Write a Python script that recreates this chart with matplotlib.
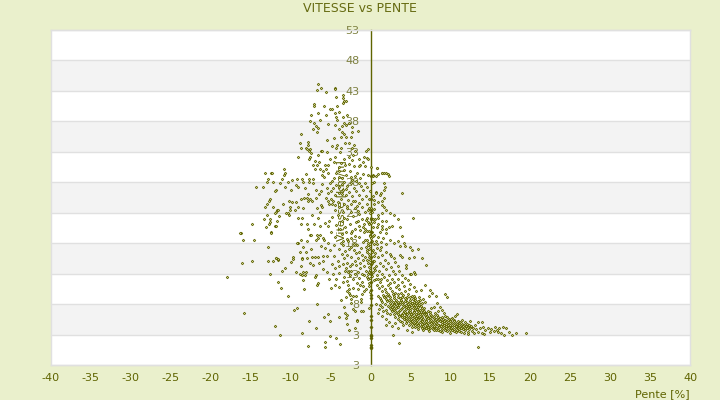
import numpy as np
import matplotlib
matplotlib.use("Agg")
import matplotlib.pyplot as plt

# (pente %, vitesse km/h)
high_points = [(-6.6,44.1),(-6.2,43.4),(-6.7,43.1),(-5.6,42.9),(-4.5,43.4),(-4.5,43.3),(-4.3,42.0),(-3.5,42.3),(-3.5,41.8),(-3.3,41.4),
 (-3.1,41.4),(-3.5,41.0),(-7.1,40.8),(-7.1,40.5),(-5.8,40.5),(-4.2,40.6),(-5.1,40.1),(-4.8,40.0),(-6.6,39.3),(-7.5,39.0),
 (-5.6,39.0),(-4.5,39.3),(-4.0,39.5),(-4.3,38.7),(-4.2,38.3),(-3.5,38.7),(-3.0,39.0),(-6.3,38.3),(-7.6,38.0),(-7.1,37.7),
 (-5.3,37.5),(-4.5,37.4),(-6.8,37.2),(-7.2,36.7),(-6.6,36.9),(-6.7,36.2),(-8.7,36.0),(-4.0,36.7),(-3.3,37.7),(-3.6,37.2),
 (-3.1,37.4),(-2.7,37.7),(-2.3,37.0),(-1.6,36.5),(-2.3,36.2),(-3.6,36.2),(-3.3,35.9),(-3.1,35.4),(-3.7,35.4),(-2.5,35.5),
 (-4.6,35.2),(-5.5,35.0),(-8.8,34.4),(-7.8,34.6),(-7.8,34.1),(-8.1,33.7),(-8.0,33.4),(-8.7,33.6),(-7.6,33.4),(-7.7,33.1),
 (-7.5,32.8),(-6.2,33.1),(-5.5,32.9),(-4.8,33.9),(-4.3,33.6),(-4.2,34.2),(-3.7,33.7),(-3.2,34.4),(-2.7,34.4),(-3.8,32.9),
 (-2.1,34.2),(-2.3,33.6),(-2.0,33.1),(-0.3,33.4),(-0.6,33.1),(-9.1,32.1),(-7.7,31.8),(-7.6,32.1),(-6.6,32.4),(-6.1,33.1)]

upper_cloud = [(-7.0,31.5),(-6.5,31.4),(-6.7,30.8),(-7.2,30.9),(-6.9,30.1),(-6.3,30.1),(-5.7,30.9),(-5.3,30.8),(-5.6,30.1),(-6.0,29.9),
 (-5.3,29.5),(-6.1,29.2),(-5.8,28.9),(-5.1,31.8),(-4.5,32.2),(-4.6,31.4),(-3.7,31.2),(-3.3,31.8),(-2.7,32.2),(-2.2,32.5),
 (-2.3,31.6),(-1.5,31.8),(-0.8,32.2),(-0.5,32.0),(-0.3,31.8),(-1.3,30.8),(-0.9,31.3),(-2.7,31.0),(-3.2,30.8),(-3.9,30.5),
 (-4.0,29.9),(-4.3,29.6),(-3.3,30.0),(-2.6,29.9),(-2.1,30.6),(-1.5,30.7),(-0.7,30.6),(0.0,30.5),(0.8,30.4),(-1.7,29.5),
 (-1.0,29.3),(-0.3,29.2),(-4.0,28.9),(-3.6,28.7),(-2.5,28.8),(-3.1,29.2),(-2.0,29.1),(-4.6,28.7),(-1.3,28.7),(0.3,29.2),
 (1.4,29.5),(1.7,29.6),(2.0,29.6),(2.2,29.3),(2.3,29.0),(0.9,29.3),(0.7,29.0),(0.3,29.1),(0.5,28.1),(1.7,27.8),
 (1.8,27.3),(0.2,27.8),(-0.7,27.8),(-1.8,28.2),(-2.5,27.9),(-3.3,28.1),(-4.3,27.6),(-3.9,27.2),(-2.9,27.4),(-2.1,27.1),
 (-1.2,27.4),(-0.4,27.3),(-3.4,26.7),(-2.7,26.4),(-1.8,26.6),(-0.9,26.7),(-0.1,26.5),(0.7,26.4),(-4.0,26.2),(-3.1,25.9),
 (-2.3,25.7),(-1.5,25.9),(-0.6,25.7),(0.3,25.8),(-3.7,25.3),(-2.8,25.1),(-1.9,25.0),(-1.1,25.3),(-0.2,25.2),(0.5,25.1),
 (-4.1,24.7),(-3.3,24.5),(-2.4,24.4),(-1.4,24.6),(-0.5,24.4),(-3.9,23.9),(-3.0,23.8),(-2.0,23.7),(-1.1,23.9),(-0.2,23.7),
 (-4.4,23.5),(-3.5,23.2),(-2.5,23.1),(-1.6,23.3),(-0.7,23.2),(-4.8,28.2),(-5.1,27.8),(-4.7,27.1),(-5.0,26.5),(-4.5,25.9),
 (-4.7,25.0),(-4.4,24.2),(-3.6,27.7),(-3.1,26.9),(-2.3,28.3),(-1.5,27.9),(-3.6,26.1),(-2.2,25.0),(-2.9,24.1),(-1.7,24.1)]

left_points = [(-13.2,29.5),(-12.5,29.5),(-12.3,29.6),(-10.8,30.1),(-10.7,29.5),(-10.8,29.2),(-12.8,28.5),(-13,28),(-12.2,28),(-11.1,28.5),
 (-11.3,27.8),(-10.3,28.1),(-9.8,28.3),(-9.2,28.5),(-8.6,28.5),(-8.5,28),(-9.3,27.5),(-9.1,27.3),(-10.7,27.3),(-14.3,27.2),
 (-13.5,27.2),(-11.8,26.8),(-12,26.5),(-10,26.7),(-8.1,29.3),(-7.7,28.5),(-7.7,28),(-7.2,28.5),(-7.2,27.8),(-8.2,27),
 (-7.8,26),(-8.3,25.5),(-8.7,25.2),(-8,25.4),(-7.8,24.9),(-7.6,25.2),(-7.3,24.9),(-6.8,26.7),(-6.2,26.5),(-6.5,26),
 (-6.8,25.5),(-6.1,27.7),(-5.5,27),(-5.3,26.2),(-5.6,25.4),(-5.3,24.9),(-5,25.2),(-5.2,24.5),(-4.8,24.4),(-6.2,24.2),
 (-6.7,23.7),(-6.1,23.9),(-6.3,23.2),(-12.6,25.2),(-12.7,24.9),(-13,24.5),(-13.2,24),(-11,24.5),(-10.2,24.9),(-9.8,24.7),
 (-9.3,24.7),(-10.1,24),(-9.1,24),(-10.1,23.5),(-9.5,23.5),(-8.5,23.7),(-9.1,22.2),(-8.6,22.2),(-12.2,23.9),(-11.7,23.5),
 (-11.6,23.5),(-11.8,23.2),(-12,22.9),(-10.6,22.9),(-10.3,22.9),(-10.2,22.6),(-13,22.7),(-11.5,22.4),(-13.3,21.9),(-12.6,21.9),
 (-12.6,21.4),(-12.7,21.1),(-11.7,21.6),(-12,20.9),(-11.8,20.9),(-14.8,21.1),(-13.1,20.6),(-16.2,19.6),(-16.3,19.6),(-12.5,19.8),
 (-12.5,19.7),(-16,18.5),(-14.6,18.5),(-12.8,17.3),(-9.1,18),(-8.7,18.6),(-9.2,18),(-7.8,20.3),(-7.6,19.4),(-8,18.3),
 (-7.5,19.3),(-8.7,21.1),(-8,21.1),(-7.1,21.1),(-6.6,22.1),(-7.3,22.6),(-6.3,20.9),(-5.7,21.3),(-5.3,20.9),(-5.2,21.6),
 (-4.8,22.3),(-6.8,18.6),(-6.6,18.9),(-6.7,19.3),(-6.3,19.3),(-5.9,18.8),(-5.8,18.5),(-8.5,17.3),(-8.8,16.6),(-8.1,16.5),
 (-7.5,17),(-7.3,15.7),(-11.8,15.5),(-11.6,15.3),(-9.7,15.7),(-8.6,15.5),(-6.6,15.7),(-5.9,15.9),(-6.0,15.1),(-5.5,15.9)]

lower_left = [(-18,12.4),(-16.1,14.7),(-14.8,15),(-12.8,15),(-12.2,15),(-11.8,15.5),(-11.6,15.4),(-12.6,13),(-11.1,13.4),(-10.7,13.9),
 (-9.9,14.9),(-9.7,15.4),(-8.7,14.2),(-8.6,15.4),(-7.9,15.6),(-7,15.8),(-7.6,14.7),(-7.2,14.5),(-9.3,13.2),(-8.5,13.2),
 (-8.1,13.2),(-8.6,12.7),(-8.2,12.7),(-8.8,12.9),(-8.5,11.9),(-7,12.4),(-6.8,12.7),(-11.6,11.6),(-11.2,10.7),(-10.3,9.4),
 (-8.3,10.4),(-6.6,11.4),(-6.7,11.1),(-5,10.7),(-4.5,11.2),(-6.7,8),(-9.2,7.3),(-9.6,7.1),(-15.8,6.6),(-7.7,5.2),
 (-5.8,5.8),(-5.3,6.3),(-5.1,5.2),(-4,5.8),(-3.2,6.5),(-3,6.2),(-3.1,5.7),(-3,4.7),(-2.7,3.7),(-11.9,4.4),
 (-11.3,3),(-8.6,3.2),(-6.8,4),(-2,4),(-5.1,2.7),(-4.3,2.5),(-5.7,1.7),(-3.8,1.4),(-5.7,0.9),(-7.8,1.1),
 (-3.7,8.6),(-3.3,7.6),(-2.7,9.8),(-2.4,8.8),(-2.2,9.4),(-3.1,9.1),(-2.6,9.5),(-1.8,9.3),(-1.2,8.8),(-1.2,8.3),
 (-1.1,9.6),(-0.8,10.2),(-0.9,6.9),(-1.2,6.8),(-0.2,7.3),(-1.7,5.4),(-1.7,5.2),(-1.9,6.8),(-2.4,8.1),(-2.2,7.2)]

center_cloud = [(-4.1,22.6),(-3.3,22.1),(-2.2,22.5),(-1.4,22.8),(-0.5,22.2),(-3.6,21.7),(-2.9,21.9),(-1.8,21.4),(-1.1,22.0),(-0.3,21.5),
 (-4.3,21.0),(-3.2,20.7),(-2.6,21.2),(-1.4,20.8),(-0.8,21.1),(0.1,21.3),(-3.8,20.4),(-3.1,19.9),(-2.0,20.3),(-1.3,20.2),
 (-0.2,20.0),(-3.6,19.5),(-2.5,19.7),(-1.9,19.2),(-0.8,19.8),(-0.1,19.3),(-4.4,19.0),(-3.0,18.7),(-2.4,18.9),(-1.5,19.0),
 (-0.7,18.6),(0.1,18.9),(-3.7,18.1),(-2.8,18.4),(-2.1,17.9),(-1.0,18.2),(-0.3,18.0),(-3.5,17.7),(-2.4,17.3),(-1.7,17.7),
 (-0.6,17.4),(-0.1,17.6),(-4.0,17.0),(-3.2,16.7),(-2.1,16.9),(-1.4,16.6),(-0.5,16.9),(-3.6,16.3),(-2.9,16.0),(-1.8,16.4),
 (-1.1,16.1),(-0.2,16.3),(-4.6,15.9),(-3.3,15.5),(-2.5,15.8),(-1.6,15.5),(-0.7,15.7),(-4.1,15.0),(-2.9,14.8),(-2.0,15.1),
 (-1.3,14.8),(-0.4,15.2),(-3.5,14.6),(-2.6,14.2),(-1.8,14.5),(-0.8,14.2),(0.0,14.6),(-4.4,13.9),(-3.1,14.0),(-2.4,13.5),
 (-1.3,13.9),(-0.6,13.5),(-3.9,13.1),(-2.8,13.3),(-2.0,12.9),(-1.1,13.0),(-0.2,13.3),(-3.3,12.4),(-2.6,12.7),(-1.5,12.3),
 (-0.8,12.7),(-4.3,12.1),(-2.9,11.8),(-2.2,12.1),(-1.1,11.6),(-0.3,12.1),(-2.8,11.1),(-1.7,11.4),(-1.0,10.9),(-0.2,11.0),
 (-0.6,10.5),(-1.6,10.4),(-2.2,10.7),(-0.1,10.0),(-3.5,11.6),(-3.9,10.8),(-0.3,23.4),(-0.1,22.9),(0.1,22.2),(-0.6,21.8),
 (-0.2,21.1),(0.3,20.7),(-0.7,20.4),(-0.4,20.0),(0.2,19.8),(-0.1,19.1),(0.3,19.2),(-0.5,18.5),(0.2,18.3),(-0.3,17.7),
 (0.4,17.8),(-0.2,17.1),(0.3,16.9),(-0.4,16.5),(0.2,16.6),(-0.2,15.8),(0.4,15.9),(-0.1,15.3),(0.3,15.1),(-0.3,14.7),
 (0.2,14.8),(-0.2,14.1),(0.4,13.9),(-0.1,13.6),(0.3,13.3),(-0.3,12.9),(0.2,12.6),(-0.1,12.3),(0.4,12.0),(-0.2,11.5),
 (0.1,23.8),(0.2,23.1),(0.4,21.4),(-0.9,20.6),(-1.6,21.7),(-2.3,20.0),(-3.4,18.3),(-2.7,17.0),(-1.2,17.2),(-0.9,15.3),
 (-2.3,14.6),(-3.2,13.4),(-1.6,13.2),(-0.5,12.4),(-2.7,10.4),(-1.3,11.2),(-3.0,10.2),(-4.0,14.3),(-4.6,17.7),(-5.0,19.8),
 (-5.3,18.1),(-5.1,16.9),(-4.8,14.6),(-5.4,13.3),(-5.2,12.1),(-4.7,12.9),(-5.7,17.2),(-6.2,17.6),(-6.4,14.8),(-5.9,13.7)]

right_points = [(0.8,30.4),(1.4,29.5),(3.9,26.3),(0.7,26.3),(1.7,26.7),(1.3,26.2),(1.2,25.9),(1.7,25.5),(1.5,24.9),(1.4,24.2),
 (0.5,24.5),(1.0,24.7),(1.7,23.9),(1.9,23.5),(2.4,23.0),(2.9,22.7),(5.3,22.2),(3.4,21.9),(1.9,21.7),(1.4,21.7),
 (0.9,22.7),(1.5,22.9),(0.9,22.2),(3.7,20.6),(2.7,20.9),(2.3,20.6),(2.0,20.3),(1.4,20.4),(1.4,20.9),(2.0,19.6),
 (2.9,18.1),(2.4,18.5),(3.9,19.1),(3.4,18.3),(3.7,17.6),(4.2,18.1),(4.3,17.5),(4.9,17.3),(5.2,16.8),(6.0,17.1),
 (6.4,15.5),(5.5,15.8),(4.8,15.6),(3.7,16.0),(3.9,15.7),(2.9,15.5),(2.0,16.6),(2.4,16.2),(1.3,17.3),(0.8,17.2),
 (0.4,23.6),(0.6,22.0),(1.0,21.2),(0.3,21.9),(0.8,20.7),(1.2,19.8),(0.5,19.4),(1.0,19.0),(1.6,18.8),(0.7,18.4),
 (1.3,18.2),(0.8,17.8),(1.9,17.9),(1.2,16.8),(0.6,16.4),(1.5,16.0),(2.6,15.9),(0.9,15.7),(1.8,15.3),(0.5,15.0),
 (1.2,14.8),(2.2,14.7),(3.1,14.9),(0.7,14.3),(1.6,14.2),(2.6,14.1),(3.5,14.3),(4.4,14.5),(6.9,14.4),(5.4,13.2),
 (4.5,14.0),(4.9,13.0),(5.1,12.9),(5.6,12.9),(6.8,11.1),(7.4,10.3),(7.7,9.9),(8.2,9.4),(9.3,9.6),(9.6,9.1),
 (7.3,9.3),(8.3,8.1),(8.7,7.5),(8.9,7.1),(9.2,6.6),(10.8,6.3),(13.5,0.9),(3.6,1.6),(2.8,3.0),(2.0,4.5),
 (0.6,13.6),(1.1,13.4),(1.9,13.7),(2.8,13.5),(3.6,13.4),(0.8,12.8),(1.5,13.0),(2.3,12.7),(3.1,12.9),(4.0,12.8),
 (0.7,12.2),(1.7,12.4),(2.7,12.2),(3.5,12.1),(4.3,12.3),(1.3,12.1),(2.1,11.9),(3.0,11.7),(3.9,11.6),(4.7,11.9),
 (2.4,11.4),(3.4,11.2),(4.2,11.0),(5.0,11.3),(5.4,10.8),(4.8,10.4),(5.7,10.1),(6.3,10.3)]

band_points = [(0.9,12.1),(1.2,11.6),(0.8,11.2),(1.5,11.0),(1.1,10.6),(1.8,10.5),(2.2,11.2),(2.5,10.6),(1.4,10.1),(2.0,10.0),
 (2.7,10.1),(3.2,10.8),(3.6,10.4),(3.1,9.9),(3.8,9.8),(4.3,10.2),(1.6,9.5),(2.3,9.4),(2.9,9.3),(3.5,9.2),
 (4.1,9.5),(4.7,9.6),(5.2,9.4),(5.6,9.0),(6.1,9.2),(6.6,8.8),(6.8,8.3),(6.4,8.1),(2.0,8.9),(2.6,8.7),
 (3.2,8.6),(3.8,8.7),(4.4,8.8),(5.0,8.7),(5.4,8.4),(5.9,8.5),(2.4,8.2),(2.9,8.0),(3.5,8.1),(4.1,8.1),
 (4.7,8.0),(5.3,7.9),(5.8,7.8),(6.3,7.7),(2.7,7.6),(3.3,7.5),(3.9,7.4),(4.5,7.5),(5.0,7.4),(5.6,7.3),
 (3.0,7.1),(3.6,6.9),(4.2,6.9),(4.8,6.9),(5.4,6.8),(5.9,6.9),(6.4,7.0),(3.3,6.5),(3.9,6.4),(4.5,6.3),
 (5.1,6.3),(5.7,6.3),(6.2,6.4),(6.8,6.6),(7.2,6.9),(7.6,7.3),(7.9,7.6),(3.6,6.0),(4.2,5.9),(4.8,5.8),
 (5.4,5.8),(6.0,5.7),(6.5,5.9),(7.1,6.1),(7.6,6.2),(8.1,6.5),(8.4,6.9),(4.5,5.4),(5.1,5.3),(5.7,5.2),
 (6.3,5.3),(6.9,5.4),(7.4,5.6),(7.9,5.7),(8.4,5.8),(8.9,5.9),(9.3,6.0),(5.4,4.9),(6.0,4.8),(6.6,4.8),
 (7.2,4.9),(7.8,5.0),(8.3,5.2),(8.8,5.3),(9.3,5.4),(9.8,5.6),(10.2,5.7),(6.3,4.4),(6.9,4.3),(7.5,4.4),
 (8.1,4.5),(8.6,4.6),(9.1,4.8),(9.6,4.9),(10.1,5.0),(10.6,5.1),(11.0,5.3),(7.2,3.9),(7.8,3.9),(8.4,4.0),
 (9.0,4.2),(9.5,4.3),(10.0,4.4),(10.5,4.5),(11.0,4.7),(11.4,4.8),(11.8,5.0),(8.7,3.6),(9.3,3.7),(9.9,3.8),
 (10.4,3.9),(10.9,4.0),(11.4,4.2),(11.9,4.4),(12.3,4.6),(10.7,3.4),(11.3,3.5),(11.8,3.7),(12.3,3.9),(12.8,4.1),
 (2.2,9.7),(2.8,9.6),(3.4,9.6),(4.0,9.1),(4.6,9.2),(5.3,8.9),(2.1,8.5),(2.8,8.4),(3.4,8.3),(4.0,8.4),
 (4.6,8.4),(5.2,8.2),(5.7,8.2),(3.0,7.8),(3.6,7.8),(4.2,7.7),(4.8,7.7),(5.4,7.6),(6.0,7.5),(3.2,7.3),
 (3.8,7.2),(4.4,7.2),(5.0,7.1),(5.6,7.0),(6.2,7.1),(6.7,7.3),(3.5,6.7),(4.1,6.6),(4.7,6.6),(5.3,6.5),
 (5.9,6.6),(6.5,6.6),(7.0,6.5),(3.8,6.2),(4.4,6.1),(5.0,6.0),(5.6,6.0),(6.2,6.1),(6.8,6.2),(7.4,6.4),
 (4.2,5.6),(4.8,5.5),(5.4,5.5),(6.0,5.5),(6.6,5.5),(7.2,5.7),(7.8,5.9),(8.3,6.2),(4.9,5.1),(5.6,5.0),
 (6.2,5.0),(6.8,5.1),(7.4,5.2),(8.0,5.3),(8.6,5.5),(9.1,5.6),(9.6,5.8),(5.9,4.6),(6.5,4.6),(7.1,4.6),
 (7.7,4.7),(8.3,4.8),(8.9,5.0),(9.4,5.1),(9.9,5.2),(10.4,5.4),(6.8,4.1),(7.4,4.1),(8.0,4.2),(8.6,4.3),
 (9.2,4.5),(9.7,4.6),(10.3,4.7),(10.8,4.8),(11.2,5.0),(8.2,3.7),(8.9,3.9),(9.5,4.0),(10.1,4.1),(10.7,4.3),
 (11.2,4.4),(11.7,4.6),(12.1,4.8),(1.0,6.5),(1.4,6.0),(1.9,5.5),(2.3,5.0),(2.7,4.4),(3.1,4.9),(3.5,4.1),(2.5,6.3),
 (1.5,7.5),(2.0,7.0),(2.4,7.4),(1.3,8.6),(1.8,8.0),(0.9,9.3),(0.7,8.0),(1.1,7.2),(4.6,3.7),(5.2,3.4),(5.6,4.2),(4.1,4.6)]

band_fill = [(2.5,9.1),(3.0,9.0),(3.7,9.0),(4.3,9.0),(4.9,9.1),(5.5,9.3),(6.2,8.7),(2.3,8.6),(3.1,8.3),(3.7,8.4),
 (4.3,8.5),(4.9,8.4),(5.6,8.6),(6.1,8.2),(2.6,7.9),(3.3,7.9),(3.9,8.0),(4.5,7.9),(5.1,7.8),(5.6,7.9),(6.1,7.9),
 (2.9,7.4),(3.5,7.5),(4.1,7.5),(4.7,7.3),(5.3,7.3),(5.8,7.2),(6.5,7.4),(3.1,6.8),(3.7,7.0),(4.3,6.7),(4.9,6.7),
 (5.5,6.7),(6.1,6.7),(6.7,6.8),(3.4,6.3),(4.0,6.2),(4.6,6.4),(5.2,6.1),(5.8,6.1),(6.4,6.3),(7.0,6.3),(7.5,6.7),
 (3.9,5.8),(4.5,5.7),(5.1,5.6),(5.7,5.7),(6.3,5.7),(6.9,5.8),(7.4,5.9),(8.0,6.1),(4.6,5.2),(5.2,5.2),(5.8,5.4),
 (6.4,5.2),(7.0,5.2),(7.6,5.4),(8.2,5.6),(8.7,5.7),(5.2,4.7),(5.8,4.9),(6.4,4.7),(7.0,4.8),(7.6,4.9),(8.1,5.0),
 (8.7,5.2),(9.2,5.2),(9.7,5.4),(10.1,5.5),(6.0,4.3),(6.6,4.4),(7.2,4.3),(7.9,4.4),(8.4,4.6),(9.0,4.7),(9.5,4.8),
 (10.0,4.9),(10.5,5.2),(6.5,4.0),(7.0,4.0),(7.6,4.2),(8.2,4.1),(8.8,4.4),(9.4,4.4),(9.9,4.5),(10.4,4.6),(10.9,4.6),
 (11.3,4.9),(7.9,3.7),(8.5,3.8),(9.1,4.0),(9.7,4.1),(10.2,4.3),(10.7,4.4),(11.1,4.5),(11.6,4.4),(9.0,3.5),(9.6,3.6),
 (10.2,3.7),(10.8,3.8),(11.3,4.0),(11.8,4.1),(12.2,4.2),(12.6,4.3),(10.0,3.3),(10.5,3.6),(11.1,3.9),(11.6,3.9),(12.1,4.0),
 (1.7,9.1),(1.2,9.0),(1.9,9.3),(1.5,8.4),(1.2,7.9),(2.2,7.7),(2.6,7.2),(2.7,6.8),(2.9,6.4),(3.1,5.9),(3.4,5.6),(3.7,5.3),
 (4.0,5.0),(4.4,4.9),(4.8,4.6),(5.2,4.3),(5.6,4.5),(6.0,3.9),(6.6,3.7),(7.3,3.6),(2.1,6.5),(1.6,6.9)]

tail_points = [(11.1,3.6),(11.7,3.2),(12.2,3.4),(12.7,3.6),(13.2,3.9),(13.7,4.1),(12.6,4.4),(13.1,4.6),(13.4,3.5),(13.9,3.3),
 (14.3,3.8),(14.7,4.1),(14.1,4.3),(13.5,5.0),(12.9,3.2),(14.2,3.1),(15.1,3.9),(15.6,4.2),(15.4,3.6),(16.0,3.5),
 (16.1,4.0),(16.6,4.2),(17.0,4.0),(16.3,3.2),(16.7,3.0),(17.3,3.5),(17.7,3.0),(18.2,3.2),(19.5,3.2),(14.0,5.0),
 (15.0,3.4),(15.8,3.7),(12.2,3.1),(12.4,5.2),(11.5,5.4),(10.6,6.0)]

axis_points = [0.8,1.0,1.3,2.4,2.7,2.9,4.2,5.4,6.0,7.8,9.0,9.5,10.3,11.7,13.0,14.6,15.8,18.2,19.9,22.0,23.4,25.3,29.0]

y_ticks = list(range(53, -3, -5))
y_tick_labels = ["53", "48", "43", "38", "33", "28", "23", "18", "13", "8", "3", "3"]
x_ticks = list(range(-40, 45, 5))

olive = "#5f6400"
bg = "#eaf0cc"

plt.rcParams['font.family'] = ['DejaVu Sans']
plt.rcParams['axes.unicode_minus'] = False
fig = plt.figure(figsize=(7.2, 4), dpi=100, facecolor=bg)
ax = fig.add_axes([51 / 720, 35 / 400, 639 / 720, 335 / 400])
ax.set_xlim(-40, 40)
ax.set_ylim(-2, 53)

# alternate bands, second from the top is grey
for i in range(len(y_ticks) - 1):
    if i % 2 == 1:
        ax.axhspan(y_ticks[i + 1], y_ticks[i], color="#f3f3f3", lw=0, zorder=0)
for v in y_ticks:
    ax.axhline(v, color="#e0e0e0", lw=1.0, zorder=0.5, clip_on=False)
ax.axvline(-40, color="#e0e0e0", lw=1.0, zorder=0.5, clip_on=False)

for s in ["top", "right", "bottom"]:
    ax.spines[s].set_color("#e0e0e0")
    ax.spines[s].set_linewidth(1.0)
ax.spines["left"].set_position("zero")
ax.spines["left"].set_color(olive)
ax.spines["left"].set_linewidth(1.0)

ax.set_xticks(x_ticks)
ax.set_yticks(y_ticks)
ax.set_yticklabels(y_tick_labels)
ax.tick_params(axis="x", length=0, pad=6, labelsize=8, labelcolor=olive)
ax.tick_params(axis="y", length=0, pad=8, labelsize=8, labelcolor="#7d8040")
ax.set_axisbelow(True)

ax.text(-3.7, 25, "Vitesse [km/h]", rotation=90, ha="center", va="center",
        fontsize=8, color=olive, zorder=1)
fig.text(0.5, 0.978, "VITESSE vs PENTE", ha="center", va="center", fontsize=9, color="#666b12")
fig.text(690 / 720, 5.5 / 400, "Pente [%]", ha="right", va="center", fontsize=8, color=olive)

groups = [high_points, upper_cloud, left_points, lower_left, center_cloud, right_points, band_points, band_fill, tail_points]
pts = np.array([p for g in groups for p in g])
ax.plot(pts[:, 0], pts[:, 1], ls="none", marker="D", ms=1.3, mfc="#dfe2a8", mec=olive, mew=0.55, zorder=3)
ax.plot(np.zeros(len(axis_points)), axis_points, ls="none", marker="D", ms=1.5, mfc=olive, mec=olive, mew=0.6, zorder=3)

fig.savefig("out.png", dpi=100, facecolor=bg)
